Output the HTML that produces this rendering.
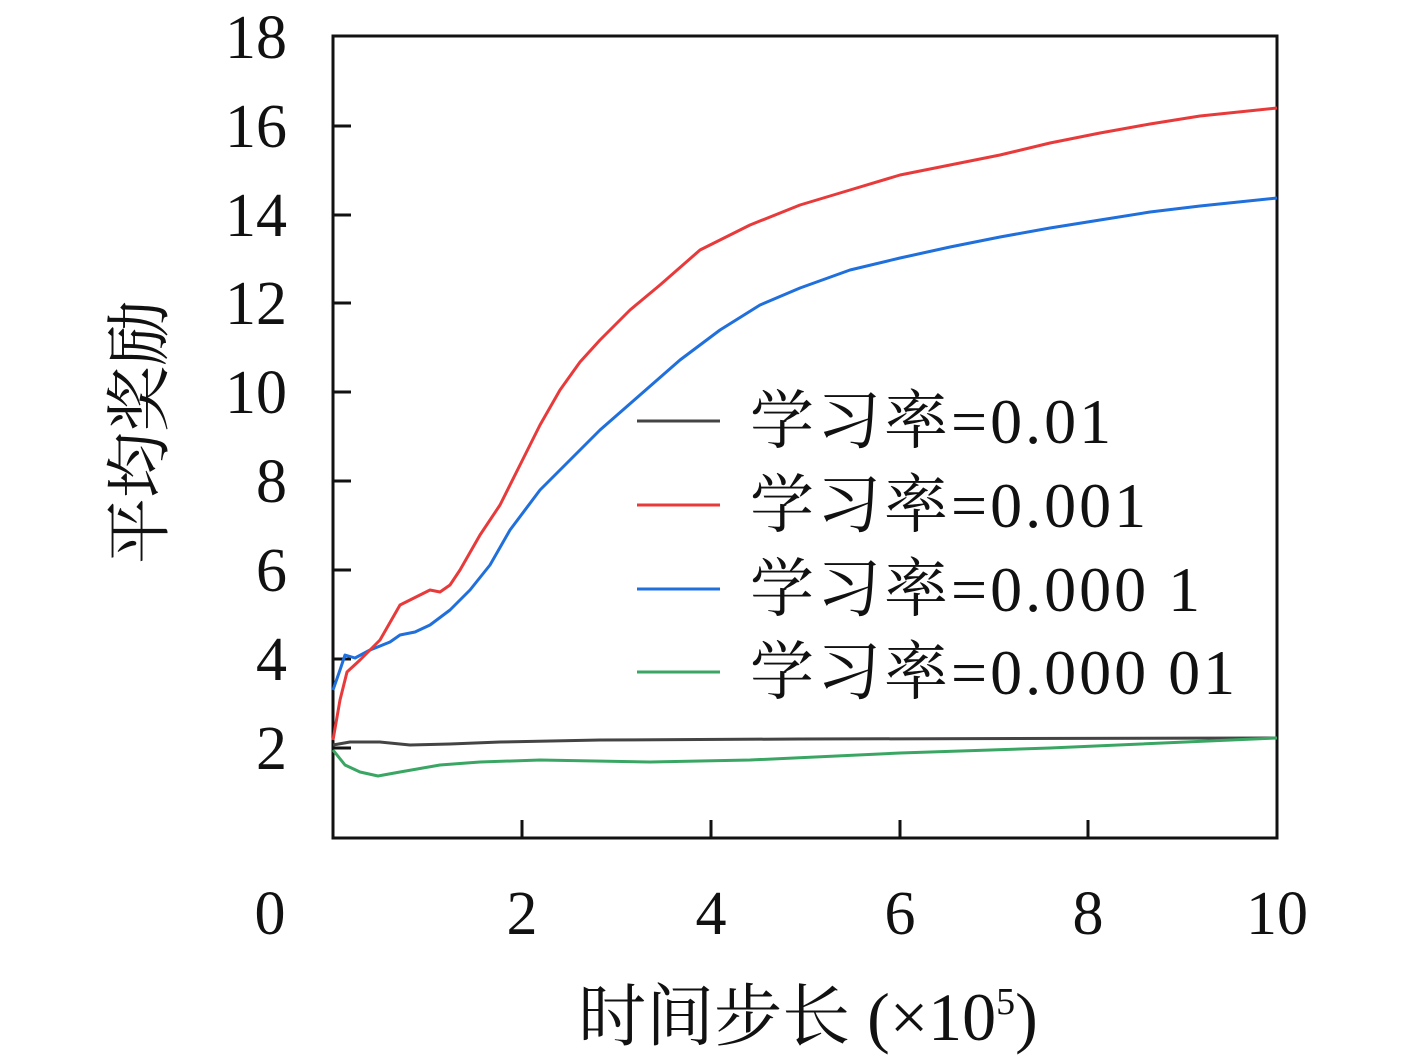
<!DOCTYPE html>
<html><head><meta charset="utf-8"><style>
html,body{margin:0;padding:0;background:#fff}
svg text{font-family:"Liberation Serif","Noto Serif CJK SC",serif;fill:#111}
</style></head><body>
<svg width="1417" height="1058" viewBox="0 0 1417 1058" xmlns="http://www.w3.org/2000/svg">
<rect x="333" y="36" width="944" height="802" fill="none" stroke="#111" stroke-width="3"/>
<g stroke="#111" stroke-width="3">
<line x1="333" y1="126" x2="351" y2="126"/><line x1="333" y1="215" x2="351" y2="215"/>
<line x1="333" y1="303" x2="351" y2="303"/><line x1="333" y1="392" x2="351" y2="392"/>
<line x1="333" y1="481" x2="351" y2="481"/><line x1="333" y1="570" x2="351" y2="570"/>
<line x1="333" y1="659" x2="351" y2="659"/><line x1="333" y1="748" x2="351" y2="748"/>
<line x1="522" y1="820" x2="522" y2="838"/><line x1="711" y1="820" x2="711" y2="838"/>
<line x1="900" y1="820" x2="900" y2="838"/><line x1="1088" y1="820" x2="1088" y2="838"/>
</g>
<g font-size="62" text-anchor="end">
<text x="287" y="58">18</text><text x="287" y="147">16</text><text x="287" y="236">14</text>
<text x="287" y="324">12</text><text x="287" y="413">10</text><text x="287" y="502">8</text>
<text x="287" y="591">6</text><text x="287" y="680">4</text><text x="287" y="769">2</text>
</g>
<g font-size="62" text-anchor="middle">
<text x="270" y="934">0</text><text x="522" y="934">2</text><text x="711" y="934">4</text>
<text x="900" y="934">6</text><text x="1088" y="934">8</text><text x="1277" y="934">10</text>
</g>
<text x="808" y="1040" font-size="68" text-anchor="middle">时间步长 (×10<tspan font-size="38" dy="-26">5</tspan><tspan dy="26">)</tspan></text>
<text transform="translate(162,432) rotate(-90)" font-size="66" text-anchor="middle">平均奖励</text>
<g fill="none" stroke-width="3" stroke-linejoin="round">
<polyline stroke="#444" points="333,745 350,742 380,742 410,745 450,744 500,742 600,740 800,739 1277,738"/>
<polyline stroke="#3aa663" points="333,750 345,765 360,772 378,776 400,772 440,765 480,762 540,760 650,762 750,760 900,753 1050,748 1277,738"/>
<polyline stroke="#1f6fdc" points="333,690 340,670 345,655 355,658 370,650 390,642 400,635 415,632 430,625 450,610 470,590 490,565 510,530 540,490 570,460 600,430 640,395 680,360 720,330 760,305 800,288 850,270 900,258 950,247 1000,237 1050,228 1100,220 1150,212 1200,206 1277,198"/>
<polyline stroke="#e83a3a" points="333,740 340,700 347,672 360,660 380,640 400,605 420,595 430,590 440,592 450,585 460,570 480,535 500,505 520,465 540,425 560,390 580,362 600,340 630,310 660,285 700,250 750,225 800,205 850,190 900,175 950,165 1000,155 1050,143 1100,133 1150,124 1200,116 1277,108"/>
</g>
<g stroke-width="3">
<line x1="637" y1="421" x2="720" y2="421" stroke="#444"/>
<line x1="637" y1="505" x2="720" y2="505" stroke="#e83a3a"/>
<line x1="637" y1="589" x2="720" y2="589" stroke="#1f6fdc"/>
<line x1="637" y1="672" x2="720" y2="672" stroke="#3aa663"/>
</g>
<g font-size="64" letter-spacing="3">
<text x="750" y="443">学习率=0.01</text>
<text x="750" y="527">学习率=0.001</text>
<text x="750" y="611">学习率=0.000 1</text>
<text x="750" y="694">学习率=0.000 01</text>
</g>
</svg>
</body></html>
